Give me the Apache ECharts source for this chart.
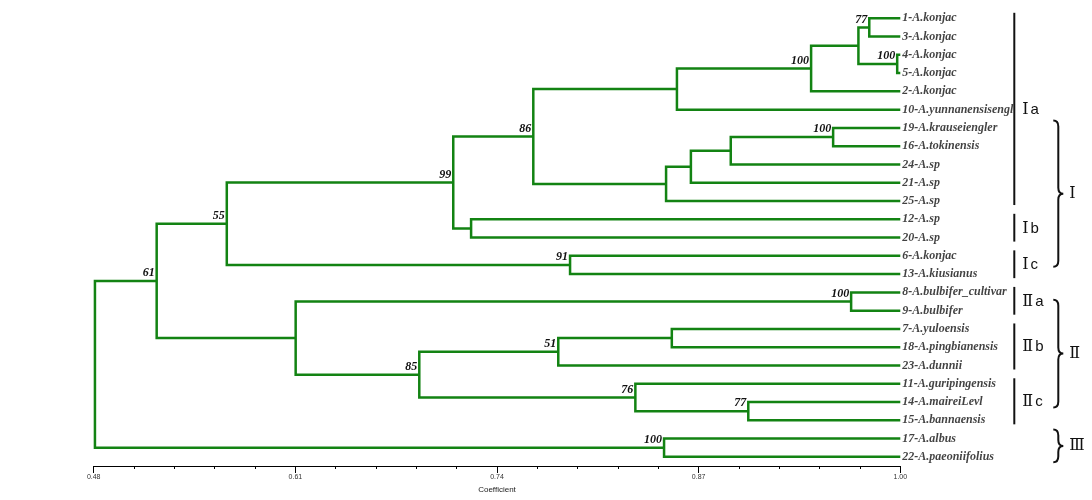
<!DOCTYPE html>
<html><head><meta charset="utf-8">
<script src="https://cdn.jsdelivr.net/npm/echarts@6/dist/echarts.min.js"></script>
<style>html,body{margin:0;padding:0;background:#fff}#c{width:1092px;height:500px}</style>
</head><body><div id="c"></div>
<script>
// ---- leaves (top to bottom) ----
const leafNames = ['1-A.konjac','3-A.konjac','4-A.konjac','5-A.konjac','2-A.konjac','10-A.yunnanensisengl',
  '19-A.krauseiengler','16-A.tokinensis','24-A.sp','21-A.sp','25-A.sp','12-A.sp','20-A.sp','6-A.konjac',
  '13-A.kiusianus','8-A.bulbifer_cultivar','9-A.bulbifer','7-A.yuloensis','18-A.pingbianensis','23-A.dunnii',
  '11-A.guripingensis','14-A.maireiLevl','15-A.bannaensis','17-A.albus','22-A.paeoniifolius'];
const leafCoef = 1.00;
// ---- merges: children (L = leaf index, N = node index), coefficient, bootstrap support ----
const nodeLeft  = ['L0','L2','N0','N2','N3','L6','N5','N6','N7','N4','L11','N9','L13','N11','L15','L17','N15','L21','L20','N16','N14','N13','L23','N21'];
const nodeRight = ['L1','L3','N1','L4','L5','L7','L8','L9','L10','N8','L12','N10','L14','N12','L16','L18','L19','L22','N17','N18','N19','N20','L24','N22'];
const nodeCoef  = [0.980,0.998,0.973,0.9425,0.856,0.9567,0.8907,0.865,0.849,0.7634,0.7233,0.7118,0.7871,0.5658,0.9683,0.8527,0.7795,0.902,0.8292,0.6899,0.6102,0.5206,0.8477,0.4808];
const nodeSupport = ['77','100','','100','','100','','','','86','','99','91','55','100','','51','77','76','85','','61','100',''];
// ---- axis ----
const xTicks = ['0.48','0.61','0.74','0.87','1.00'];
const xAxisName = 'Coefficient';
// ---- group annotations ----
const groupNames = ['Ⅰa','Ⅰb','Ⅰc','Ⅱa','Ⅱb','Ⅱc'];
const groupFirst = [0,11,13,15,17,20];
const groupLast  = [10,12,14,16,19,22];
const cladeNames  = ['Ⅰ','Ⅱ','Ⅲ'];
const cladeTop    = [5.6,15.4,22.5];
const cladeBottom = [13.6,21.3,24.3];

const GREEN = '#138313';
const nodeY = [];
function info(ref){
  const k = +ref.slice(1);
  if (ref[0]==='L') return {x: leafCoef, y: k};
  return {x: nodeCoef[k], y: nodeY[k]};
}
const treeData = [];
for (let i=0;i<nodeCoef.length;i++){
  const a = info(nodeLeft[i]), b = info(nodeRight[i]);
  nodeY[i] = (a.y + b.y)/2;
  treeData.push([nodeCoef[i], nodeY[i], a.y, b.y, a.x, b.x]);
}
const serif = "'Liberation Serif','Times New Roman',serif";
const chart = echarts.init(document.getElementById('c'), null, {renderer:'canvas'});
const xmin = parseFloat(xTicks[0]), xmax = parseFloat(xTicks[xTicks.length-1]);
chart.setOption({
  animation:false,
  grid:{left:93.7, right:191.7, top:0, bottom:34},
  xAxis:{type:'value', position:'bottom', min:xmin, max:xmax, interval:parseFloat(xTicks[1])-xmin,
    name:xAxisName, nameLocation:'middle', nameGap:20,
    nameTextStyle:{fontSize:8, color:'#222', fontFamily:"'Liberation Sans Narrow','Liberation Sans',sans-serif"},
    axisLine:{onZero:false, lineStyle:{color:'#000', width:1}},
    axisTick:{length:7, lineStyle:{color:'#000'}},
    minorTick:{show:true, splitNumber:5, length:3, lineStyle:{color:'#000'}},
    splitLine:{show:false},
    axisLabel:{fontSize:7, color:'#333', margin:8, formatter:v=>v.toFixed(2),
      fontFamily:"'Liberation Sans Narrow','Liberation Sans',sans-serif"}},
  yAxis:{type:'value', min:-1, max:24.5, inverse:true, show:false},
  series:[
    {type:'custom', data:treeData, clip:false,
     renderItem:function(params, api){
       const x = api.value(0), ym = api.value(1), y1 = api.value(2), y2 = api.value(3);
       const pA2 = api.coord([api.value(4), y1]), pA = api.coord([x, y1]);
       const pB = api.coord([x, y2]), pB2 = api.coord([api.value(5), y2]);
       const pm = api.coord([x, ym]);
       const ch = [{type:'polyline', shape:{points:[pA2,pA,pB,pB2]},
         style:{stroke:GREEN, lineWidth:2.5, fill:null, lineJoin:'miter'}}];
       const s = nodeSupport[params.dataIndex];
       if (s) ch.push({type:'text', x:pm[0]-2, y:pm[1]-2, style:{text:s, align:'right', verticalAlign:'bottom',
         font:"italic bold 12px "+serif, fill:'#111'}, z2:10});
       return {type:'group', children:ch};
     }},
    {type:'scatter', symbolSize:0, data:leafNames.map((n,i)=>[leafCoef,i]),
     label:{show:true, position:'right', distance:2, formatter:p=>leafNames[p.dataIndex],
       fontStyle:'italic', fontWeight:'bold', fontFamily:serif, fontSize:12, color:'#111'}},
    {type:'custom', clip:false, data:groupNames.map((n,i)=>[leafCoef, groupFirst[i], groupLast[i]]),
     renderItem:function(params, api){
       const p1 = api.coord([api.value(0), api.value(1)-0.3]);
       const p2 = api.coord([api.value(0), api.value(2)+0.22]);
       const pc = api.coord([api.value(0), (api.value(1)+api.value(2))/2]);
       const bx = p1[0]+114;
       const name = groupNames[params.dataIndex];
       return {type:'group', children:[
         {type:'line', shape:{x1:bx,y1:p1[1],x2:bx,y2:p2[1]}, style:{stroke:'#111', lineWidth:2}},
         {type:'text', x:bx+8, y:pc[1], style:{
           text:'{r|'+name.slice(0,1)+'}{s|'+name.slice(1)+'}', verticalAlign:'middle', align:'left',
           rich:{r:{fontFamily:"'DejaVu Serif','Noto Serif CJK SC',serif", fontSize:16, fill:'#111'},
                 s:{fontFamily:"'Liberation Sans',sans-serif", fontSize:15, fill:'#111', padding:[0,0,0,2]}}}}
       ]};
     }},
    {type:'custom', clip:false, data:cladeNames.map((n,i)=>[leafCoef, cladeTop[i], cladeBottom[i]]),
     renderItem:function(params, api){
       const pt = api.coord([api.value(0), api.value(1)]);
       const pb = api.coord([api.value(0), api.value(2)]);
       const x0 = pt[0]+153, w = 10, xm = x0+w/2, r = 6;
       const yt = pt[1], yb = pb[1], ym = (yt+yb)/2;
       const d = `M${x0} ${yt} Q${xm} ${yt} ${xm} ${yt+r} L${xm} ${ym-r} Q${xm} ${ym} ${x0+w} ${ym} Q${xm} ${ym} ${xm} ${ym+r} L${xm} ${yb-r} Q${xm} ${yb} ${x0} ${yb}`;
       return {type:'group', children:[
         {type:'path', shape:{pathData:d}, style:{stroke:'#111', lineWidth:2, fill:null}},
         {type:'text', x:x0+w+6, y:ym, style:{text:cladeNames[params.dataIndex], verticalAlign:'middle', align:'left',
           font:"16px 'DejaVu Serif','Noto Serif CJK SC',serif", fill:'#111'}}
       ]};
     }}
  ]
});
</script></body></html>
